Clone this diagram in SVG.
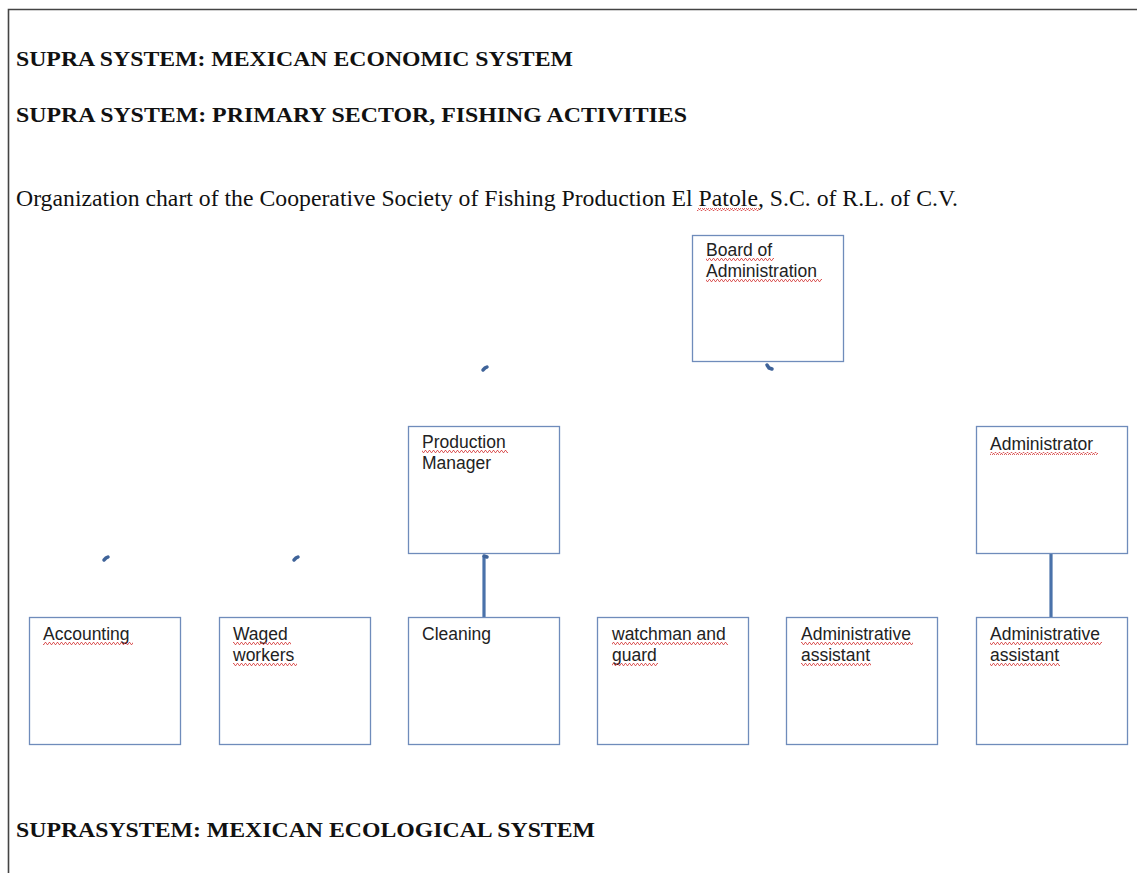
<svg xmlns="http://www.w3.org/2000/svg" width="1137" height="873" viewBox="0 0 1137 873">
<defs>
<pattern id="wavy" width="4" height="3" patternUnits="userSpaceOnUse">
<path d="M0,2.5 L1,0.5 L2,0.5 L3,2.5 L4,2.5" fill="none" stroke="#d43a3a" stroke-width="0.8"/>
</pattern>
</defs>
<style>
.frame{fill:none;stroke:#444;stroke-width:1.6}
.head{font-family:"Liberation Serif",serif;font-weight:bold;font-size:22px;fill:#111}
.body{font-family:"Liberation Serif",serif;font-size:22.5px;fill:#111}
.box{fill:#fff;stroke:#6f8cbb;stroke-width:1.3}
.lbl{font-family:"Liberation Sans",Arial,sans-serif;font-size:17.5px;fill:#222}
.sq{fill:url(#wavy)}
.conn{stroke:#4a72aa;stroke-width:3.2;fill:none}
.mark{stroke:#3f6399;stroke-width:3.5;fill:none;stroke-linecap:round}
</style>
<rect width="1137" height="873" fill="#fff"/>
<path class="frame" d="M8.5,873 L8.5,9.5 L1137,9.5"/>
<text class="head" x="16" y="66" textLength="557" lengthAdjust="spacingAndGlyphs">SUPRA SYSTEM: MEXICAN ECONOMIC SYSTEM</text>
<text class="head" x="16" y="122" textLength="671" lengthAdjust="spacingAndGlyphs">SUPRA SYSTEM: PRIMARY SECTOR, FISHING ACTIVITIES</text>
<text class="body" x="16" y="206" textLength="942" lengthAdjust="spacingAndGlyphs">Organization chart of the Cooperative Society of Fishing Production El Patole, S.C. of R.L. of C.V.</text>
<rect class="sq" x="697" y="208" width="62" height="3"/>
<text class="head" x="16" y="837" textLength="579" lengthAdjust="spacingAndGlyphs">SUPRASYSTEM: MEXICAN ECOLOGICAL SYSTEM</text>

<g id="connectors">
<line class="conn" x1="484" y1="556" x2="484" y2="617"/>
<line class="conn" x1="1051" y1="553" x2="1051" y2="617"/>
<path class="mark" d="M483,370 L485,368 L487,367"/>
<path class="mark" d="M767,365 L769,368 L772,369"/>
<path class="mark" d="M104,560 L106,558 L108,557"/>
<path class="mark" d="M294,560 L296,558 L298,557"/>
<path class="mark" d="M484,556 L487,557"/>
</g>

<g id="board">
<rect class="box" x="692.5" y="235.5" width="151" height="126"/>
<text class="lbl" x="706" y="256">Board of</text>
<text class="lbl" x="706" y="277">Administration</text>
<rect class="sq" x="706" y="258" width="68" height="3"/>
<rect class="sq" x="706" y="279" width="116" height="3"/>
</g>

<g id="production-manager">
<rect class="box" x="408.5" y="426.5" width="151" height="127"/>
<text class="lbl" x="422" y="448">Production</text>
<text class="lbl" x="422" y="469">Manager</text>
<rect class="sq" x="422" y="450" width="86" height="3"/>
</g>

<g id="administrator">
<rect class="box" x="976.5" y="426.5" width="151" height="127"/>
<text class="lbl" x="990" y="450">Administrator</text>
<rect class="sq" x="990" y="452" width="108" height="3"/>
</g>

<g id="accounting">
<rect class="box" x="29.5" y="617.5" width="151" height="127"/>
<text class="lbl" x="43" y="640">Accounting</text>
<rect class="sq" x="43" y="642" width="90" height="3"/>
</g>

<g id="waged-workers">
<rect class="box" x="219.5" y="617.5" width="151" height="127"/>
<text class="lbl" x="233" y="640">Waged</text>
<text class="lbl" x="233" y="661">workers</text>
<rect class="sq" x="233" y="642" width="58" height="3"/>
<rect class="sq" x="233" y="663" width="64" height="3"/>
</g>

<g id="cleaning">
<rect class="box" x="408.5" y="617.5" width="151" height="127"/>
<text class="lbl" x="422" y="640">Cleaning</text>
</g>

<g id="watchman">
<rect class="box" x="597.5" y="617.5" width="151" height="127"/>
<text class="lbl" x="612" y="640">watchman and</text>
<text class="lbl" x="612" y="661">guard</text>
<rect class="sq" x="612" y="642" width="116" height="3"/>
<rect class="sq" x="612" y="663" width="46" height="3"/>
</g>

<g id="admin-assistant-1">
<rect class="box" x="786.5" y="617.5" width="151" height="127"/>
<text class="lbl" x="801" y="640">Administrative</text>
<text class="lbl" x="801" y="661">assistant</text>
<rect class="sq" x="801" y="642" width="112" height="3"/>
<rect class="sq" x="801" y="663" width="70" height="3"/>
</g>

<g id="admin-assistant-2">
<rect class="box" x="976.5" y="617.5" width="151" height="127"/>
<text class="lbl" x="990" y="640">Administrative</text>
<text class="lbl" x="990" y="661">assistant</text>
<rect class="sq" x="990" y="642" width="112" height="3"/>
<rect class="sq" x="990" y="663" width="70" height="3"/>
</g>
</svg>
